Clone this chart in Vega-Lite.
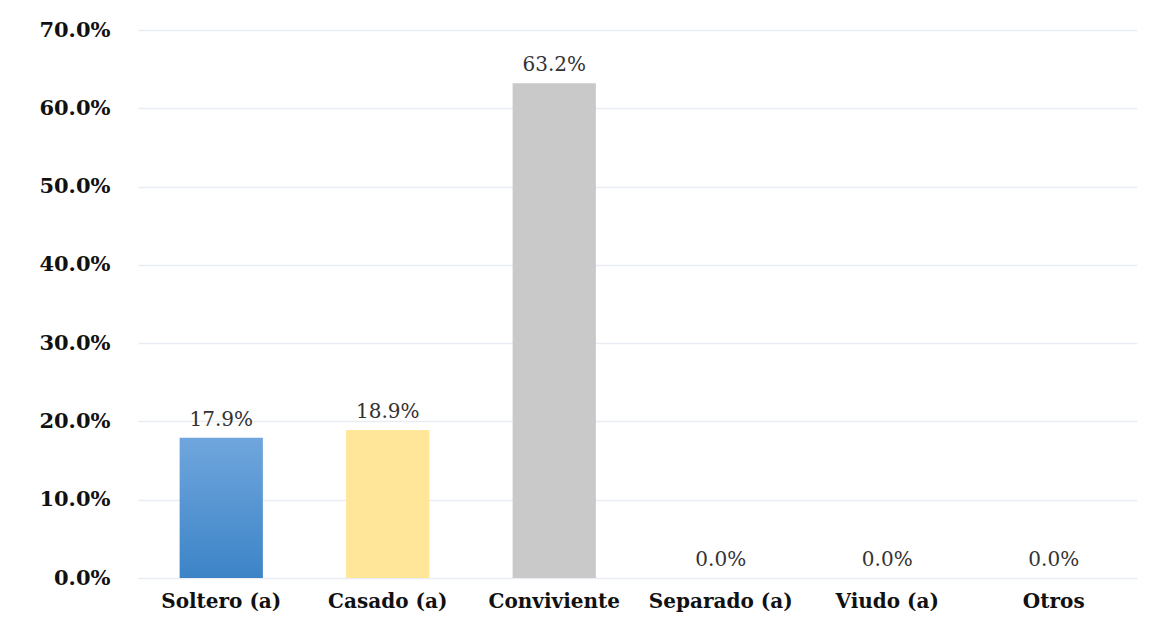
{
  "$schema": "https://vega.github.io/schema/vega-lite/v6.json",
  "autosize": "none",
  "width": 999,
  "height": 548,
  "padding": {"left": 138, "top": 30, "right": 33, "bottom": 46},
  "background": "white",
  "config": {
    "view": {"stroke": null},
    "font": "DejaVu Serif"
  },
  "data": {
    "values": [
      {"estado": "Soltero (a)", "pct": 0.179},
      {"estado": "Casado (a)", "pct": 0.189},
      {"estado": "Conviviente", "pct": 0.632},
      {"estado": "Separado (a)", "pct": 0.0},
      {"estado": "Viudo (a)", "pct": 0.0},
      {"estado": "Otros", "pct": 0.0}
    ]
  },
  "encoding": {
    "x": {
      "field": "estado",
      "type": "nominal",
      "sort": null,
      "scale": {"paddingInner": 0.5, "paddingOuter": 0.25},
      "axis": {
        "title": null,
        "labelAngle": 0,
        "domain": false,
        "ticks": false,
        "labelFont": "DejaVu Serif",
        "labelFontWeight": "bold",
        "labelFontSize": 20,
        "labelColor": "#111111",
        "labelPadding": 13,
        "labelOverlap": false
      }
    },
    "y": {
      "field": "pct",
      "type": "quantitative",
      "scale": {"domain": [0, 0.7]},
      "axis": {
        "title": null,
        "format": ".1%",
        "values": [0, 0.1, 0.2, 0.3, 0.4, 0.5, 0.6, 0.7],
        "domain": false,
        "ticks": false,
        "gridColor": "#e9edf3",
        "gridWidth": 1.5,
        "labelFont": "DejaVu Serif",
        "labelFontWeight": "bold",
        "labelFontSize": 21,
        "labelColor": "#111111",
        "labelPadding": 28
      }
    }
  },
  "layer": [
    {
      "transform": [{"filter": "datum.estado === 'Soltero (a)'"}],
      "mark": {
        "type": "bar",
        "color": {
          "gradient": "linear",
          "x1": 0, "y1": 0, "x2": 0, "y2": 1,
          "stops": [
            {"offset": 0, "color": "#70a6dd"},
            {"offset": 1, "color": "#3c84c7"}
          ]
        }
      }
    },
    {
      "transform": [{"filter": "datum.estado !== 'Soltero (a)'"}],
      "mark": {"type": "bar"},
      "encoding": {
        "color": {
          "field": "estado",
          "type": "nominal",
          "legend": null,
          "scale": {
            "domain": ["Casado (a)", "Conviviente", "Separado (a)", "Viudo (a)", "Otros"],
            "range": ["#ffe699", "#c9c9c9", "#c9c9c9", "#c9c9c9", "#c9c9c9"]
          }
        }
      }
    },
    {
      "mark": {
        "type": "text",
        "baseline": "alphabetic",
        "dy": -12,
        "font": "DejaVu Serif",
        "fontSize": 20,
        "color": "#333333"
      },
      "encoding": {
        "text": {"field": "pct", "type": "quantitative", "format": ".1%"}
      }
    }
  ]
}
